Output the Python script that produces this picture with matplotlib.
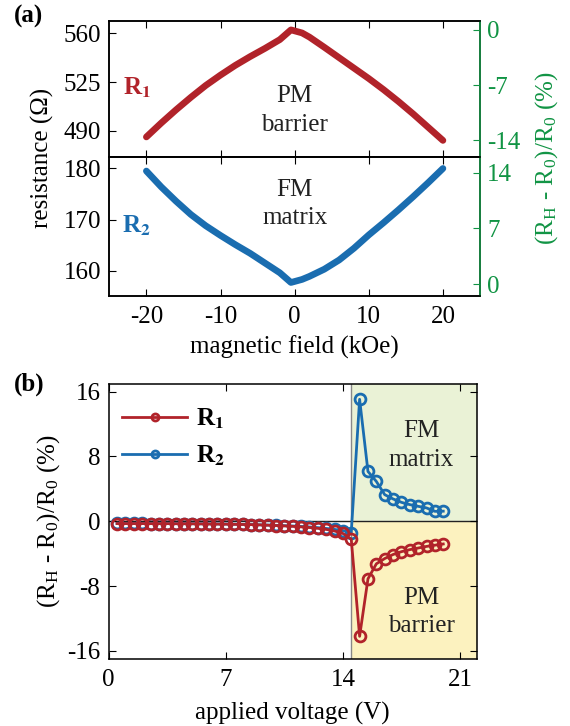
import matplotlib
matplotlib.use('Agg')
import matplotlib.pyplot as plt

plt.rcParams['font.family'] = ['Liberation Serif', 'DejaVu Serif']
plt.rcParams['mathtext.fontset'] = 'stix'
plt.rcParams['font.size'] = 18
plt.rcParams['axes.unicode_minus'] = False
plt.rcParams['axes.linewidth'] = 1.1
plt.rcParams['xtick.direction'] = 'in'
plt.rcParams['ytick.direction'] = 'in'
plt.rcParams['xtick.major.size'] = 5
plt.rcParams['ytick.major.size'] = 5
plt.rcParams['xtick.major.pad'] = 7
plt.rcParams['ytick.major.pad'] = 6

RED = '#b1232a'
BLUE = '#1a6db0'
GREEN = '#119444'
TXT = '#222222'

# (a) magnetoresistance vs field
field = [-20, -18, -16, -14, -12, -10, -8, -6, -4, -2, -0.5,
         1, 2, 4, 6, 8, 10, 12, 14, 16, 18, 20]
r1 = [485.5, 495.5, 505.0, 514.0, 522.5, 530.0, 537.0, 543.3, 549.2, 555.5, 562.5,
      560.3, 557.3, 550.0, 542.5, 535.0, 527.5, 519.5, 511.0, 502.0, 492.5, 483.0]
r2 = [179.5, 176.4, 173.6, 171.0, 168.8, 166.9, 165.1, 163.4, 161.5, 159.6, 157.7,
      158.3, 158.9, 160.3, 162.1, 164.4, 167.0, 169.4, 171.9, 174.5, 177.2, 180.0]

# (b) MR vs applied voltage
volts = [0.5, 1.0, 1.5, 2.0, 2.5, 3.0, 3.5, 4.0, 4.5, 5.0,
         5.5, 6.0, 6.5, 7.0, 7.5, 8.0, 8.5, 9.0, 9.5, 10.0,
         10.5, 11.0, 11.5, 12.0, 12.5, 13.0, 13.5, 14.0, 14.5, 15.0,
         15.5, 16.0, 16.5, 17.0, 17.5, 18.0, 18.5, 19.0, 19.5, 20.0]
mr1 = [-0.28, -0.28, -0.28, -0.28, -0.29, -0.29, -0.29, -0.30, -0.30, -0.31,
       -0.32, -0.33, -0.34, -0.35, -0.37, -0.39, -0.41, -0.44, -0.48, -0.52,
       -0.57, -0.62, -0.69, -0.77, -0.87, -1.00, -1.20, -1.50, -2.20, -14.2,
       -7.1, -5.25, -4.6, -4.1, -3.75, -3.5, -3.3, -3.1, -2.95, -2.8]
mr2 = [-0.27, -0.27, -0.27, -0.27, -0.28, -0.28, -0.28, -0.29, -0.29, -0.30,
       -0.31, -0.32, -0.33, -0.34, -0.36, -0.38, -0.40, -0.43, -0.46, -0.50,
       -0.54, -0.58, -0.63, -0.70, -0.78, -0.88, -1.00, -1.15, -1.40, 15.06,
       6.15, 4.92, 3.29, 2.76, 2.34, 2.06, 1.85, 1.65, 1.23, 1.25]
v_switch = 14.5

fig = plt.figure(figsize=(5.7, 7.26), dpi=100)
W, H = 570, 726


def rect(l, t, r, b):
    return [l / W, 1 - b / H, (r - l) / W, (b - t) / H]


ax1 = fig.add_axes(rect(109.3, 20.7, 480, 156.7))
ax2 = fig.add_axes(rect(109.3, 156.7, 480, 296))
ax1r = ax1.twinx()
ax2r = ax2.twinx()

ax1.plot(field, r1, color=RED, lw=4.8, solid_capstyle='round', solid_joinstyle='round')
ax2.plot(field, r2, color=BLUE, lw=4.8, solid_capstyle='round', solid_joinstyle='round')

for ax in (ax1, ax2):
    ax.set_xlim(-25, 25)
    ax.set_xticks([-20, -10, 0, 10, 20])
    ax.tick_params(top=True)
ax1.tick_params(labelbottom=False)
ax1.set_ylim(471.3, 569.1)
ax1.set_yticks([490, 525, 560])
ax2.set_ylim(155.06, 182.3)
ax2.set_yticks([160, 170, 180])
ax2.set_xlabel('magnetic field (kOe)', labelpad=6)

ax1r.set_ylim(-16.1, 1.18)
ax1r.set_yticks([-14, -7, 0])
ax2r.set_ylim(-1.47, 16.0)
ax2r.set_yticks([0, 7, 14])
for ax in (ax1r, ax2r):
    ax.spines['right'].set_color(GREEN)
    ax.tick_params(axis='y', colors=GREEN, direction='in', pad=5)

ax1.text(-21.3, 521, 'R$_\\mathbf{1}$', color=RED, fontweight='bold', ha='center', va='center')
ax2.text(-21.3, 168.7, 'R$_\\mathbf{2}$', color=BLUE, fontweight='bold', ha='center', va='center')
ax1.text(0, 0.34, 'PM\nbarrier', transform=ax1.get_xaxis_transform(), ha='center', va='center',
         color=TXT, linespacing=1.4)
ax2.text(0, 0.66, 'FM\nmatrix', transform=ax2.get_xaxis_transform(), ha='center', va='center',
         color=TXT, linespacing=1.4)

fig.text(42 / W, 1 - 158 / H, 'resistance (Ω)', rotation=90, ha='center', va='center')
fig.text(547 / W, 1 - 158 / H, '(R$_\\mathregular{H}$ - R$_\\mathregular{0}$)/R$_\\mathregular{0}$ (%)',
         rotation=90, ha='center', va='center', color=GREEN)
fig.text(14 / W, 1 - 16 / H, '(a)', fontweight='bold', ha='left', va='center')

# (b)
ax3 = fig.add_axes(rect(108.7, 384, 476.7, 659))
ax3.set_xlim(0, 22)
ax3.set_ylim(-17, 16.95)
ax3.axvspan(v_switch, 22, ymin=0.5, ymax=1, color='#eaf2d6', lw=0, zorder=0)
ax3.axvspan(v_switch, 22, ymin=0, ymax=0.5, color='#fcf2bf', lw=0, zorder=0)
ax3.axvline(v_switch, color='#888888', lw=1, zorder=1)
ax3.axhline(0, color=TXT, lw=1, zorder=1)
ax3.plot(volts, mr2, color=BLUE, lw=2, marker='o', ms=7.8, mfc='none', mew=2, zorder=3, label='R$_\\mathbf{2}$')
ax3.plot(volts, mr1, color=RED, lw=2, marker='o', ms=7.8, mfc='none', mew=2, zorder=4, label='R$_\\mathbf{1}$')
ax3.set_xticks([0, 7, 14, 21])
ax3.set_yticks([-16, -8, 0, 8, 16])
ax3.tick_params(top=True, right=True)
ax3.set_xlabel('applied voltage (V)', labelpad=8)
ax3.set_ylabel('(R$_\\mathregular{H}$ - R$_\\mathregular{0}$)/R$_\\mathregular{0}$ (%)', labelpad=4)
h, l = ax3.get_legend_handles_labels()
leg = ax3.legend(h[::-1], l[::-1], loc='upper left', bbox_to_anchor=(-0.025, 1.0), frameon=False,
                 handlelength=2.6, markerscale=0.65, labelspacing=0.5, handletextpad=0.35,
                 prop={'weight': 'bold', 'size': 18})
ax3.text(18.7, 9.4, 'FM\nmatrix', ha='center', va='center', color=TXT, linespacing=1.4)
ax3.text(18.7, -11.2, 'PM\nbarrier', ha='center', va='center', color=TXT, linespacing=1.4)
fig.text(14 / W, 1 - 384 / H, '(b)', fontweight='bold', ha='left', va='center')

fig.savefig('out.png', dpi=100)
